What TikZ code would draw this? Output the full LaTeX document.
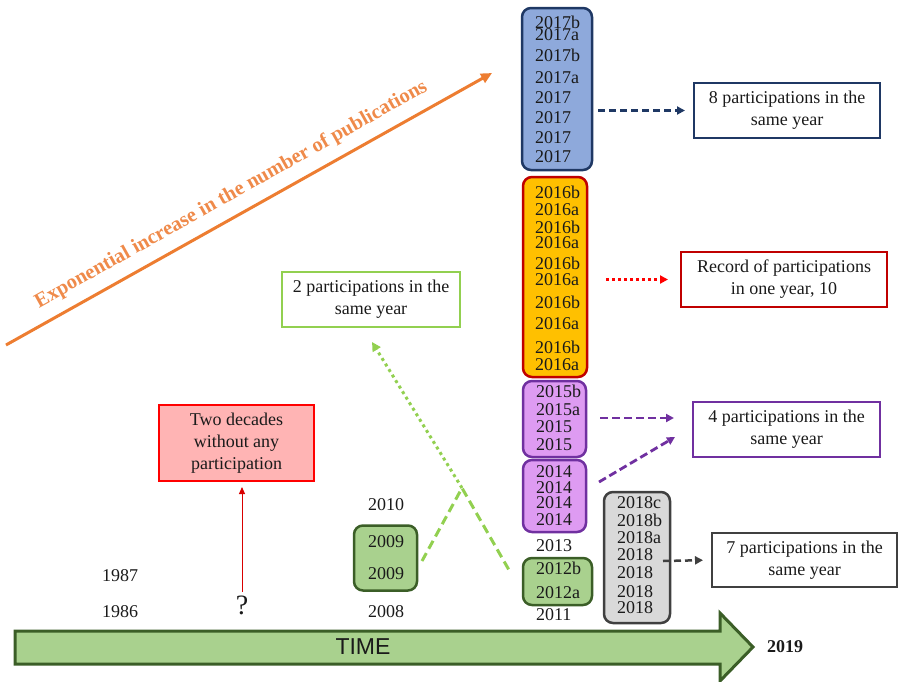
\documentclass[tikz,border=0pt]{standalone}
\usepackage{fontspec}
\setmainfont{Liberation Serif}
\newfontfamily\timefont{Liberation Sans}
\usetikzlibrary{arrows.meta}
\definecolor{navy}{HTML}{1F3864}
\definecolor{bluefill}{HTML}{8EA9DB}
\definecolor{goldfill}{HTML}{FFC000}
\definecolor{darkred}{HTML}{C00000}
\definecolor{purplefill}{HTML}{DE9BF2}
\definecolor{purpleline}{HTML}{7030A0}
\definecolor{greenfill}{HTML}{A9D18E}
\definecolor{greenline}{HTML}{3B5E27}
\definecolor{lightgreen}{HTML}{92D050}
\definecolor{grayfill}{HTML}{D9D9D9}
\definecolor{grayline}{HTML}{404040}
\definecolor{pinkfill}{HTML}{FFB4B4}
\definecolor{brightred}{HTML}{FF0000}
\definecolor{orangeline}{HTML}{ED7D31}
\definecolor{orangetext}{HTML}{EF8A4A}
\definecolor{txt}{HTML}{1A1A1A}
\begin{document}
\begin{tikzpicture}[x=1pt,y=-1pt,
  every node/.style={inner sep=0pt,outer sep=0pt,text=txt,font=\fontsize{18}{22}\selectfont},
  colbox/.style={draw,rounded corners=9pt,line width=2.5pt},
  yr/.style={anchor=west},
  yrc/.style={anchor=center},
  infobox/.style={draw,line width=2.5pt,fill=white,align=center,minimum height=55pt},
  tipT/.style={-{Triangle[length=8pt,width=8pt]}}
]
\useasboundingbox (0,0) rectangle (900,681);

% ---- column boxes
\node[colbox,draw=navy,fill=bluefill,minimum width=70pt,minimum height=162pt] (b17) at (557,89) {};
\node[colbox,draw=darkred,fill=goldfill,minimum width=64pt,minimum height=200pt] (b16) at (555,277) {};
\node[colbox,draw=purpleline,fill=purplefill,minimum width=63pt,minimum height=76pt] (b15) at (554.5,419) {};
\node[colbox,draw=purpleline,fill=purplefill,minimum width=63pt,minimum height=72pt] (b14) at (554.5,496) {};
\node[colbox,draw=greenline,fill=greenfill,minimum width=69pt,minimum height=47pt] (b12) at (557.5,581.5) {};
\node[colbox,draw=grayline,fill=grayfill,minimum width=66pt,minimum height=131pt] (b18) at (637,557.5) {};
\node[colbox,draw=greenline,fill=greenfill,minimum width=63pt,minimum height=65pt] (b09) at (385.5,558) {};

% ---- year labels inside columns
\foreach \y/\t [count=\i] in {22/2017b,35/2017a,55/2017b,78/2017a,98/2017,118/2017,138/2017,157/2017}
  \node[yr] (c17-\i) at (535,\y) {\t};
\foreach \y/\t [count=\i] in {192/2016b,210/2016a,227/2016b,243/2016a,263/2016b,280/2016a,302/2016b,324/2016a,347/2016b,365/2016a}
  \node[yr] (c16-\i) at (535,\y) {\t};
\foreach \y/\t [count=\i] in {391/2015b,410/2015a,427/2015,445/2015}
  \node[yr] (c15-\i) at (536,\y) {\t};
\foreach \y/\t [count=\i] in {472/2014,488/2014,503/2014,520/2014}
  \node[yr] (c14-\i) at (536,\y) {\t};
\node[yr] (y13) at (536,546) {2013};
\foreach \y/\t [count=\i] in {568/2012b,593/2012a}
  \node[yr] (c12-\i) at (536,\y) {\t};
\node[yr] (y11) at (536,615) {2011};
\foreach \y/\t [count=\i] in {503/2018c,520/2018b,538/2018a,555/2018,573/2018,592/2018,608/2018}
  \node[yr] (c18-\i) at (617,\y) {\t};
\node[yrc] (c09-1) at (386,542) {2009};
\node[yrc] (c09-2) at (386,574) {2009};
\node[yrc] (y10) at (386,505) {2010};
\node[yrc] (y08) at (386,612) {2008};
\node[yrc] (y87) at (120,576) {1987};
\node[yrc] (y86) at (120,612) {1986};
\node[yrc,font=\fontsize{28}{30}\selectfont] (q) at (242,605) {?};

% ---- information boxes
\node[infobox,draw=navy,minimum width=186pt] (box8) at (787,110.5) {8 participations in the\\same year};
\node[infobox,draw=darkred,minimum width=206pt] (boxrec) at (784,279.5) {Record of participations\\in one year, 10};
\node[infobox,draw=purpleline,minimum width=187pt] (box4) at (786.5,429.5) {4 participations in the\\same year};
\node[infobox,draw=grayline,minimum width=185pt,minimum height=54pt] (box7) at (804.5,560) {7 participations in the\\same year};
\node[infobox,draw=lightgreen,minimum width=178pt] (box2) at (371,299.5) {2 participations in the\\same year};
\node[draw=brightred,line width=1.8pt,fill=pinkfill,align=center,minimum width=155pt,minimum height=76pt] (pink) at (236.5,443) {Two decades\\without any\\participation};

% ---- connectors
\coordinate (a8s) at (598,110.5);
\draw[navy,line width=2.5pt,dash pattern=on 7pt off 4pt,tipT,shorten >=9pt] (a8s) -- (box8.west);
\coordinate (ars) at (606,279.5);
\draw[brightred,line width=3pt,dash pattern=on 3pt off 3pt,tipT,shorten >=13pt] (ars) -- (boxrec.west);
\coordinate (p1s) at (600,418);
\coordinate (p1e) at (674,418);
\coordinate (p2s) at (599,482);
\coordinate (p2e) at (675,437);
\draw[purpleline,line width=2.8pt,dash pattern=on 8pt off 4pt,tipT] (p1s) -- (p1e);
\draw[purpleline,line width=2.8pt,dash pattern=on 8pt off 4pt,tipT] (p2s) -- (p2e);
\coordinate (gs) at (663,561);
\draw[grayline,line width=2.5pt,dash pattern=on 7pt off 4pt,tipT,shorten >=9pt] (gs) -- (box7.west);
\draw[brightred!85!black,line width=1pt,-{Triangle[length=7pt,width=6pt]},shorten <=13pt,shorten >=6pt] (q.center) -- (q.center |- pink.south);
% green
\coordinate (g1) at (422,561);
\coordinate (peak) at (462,488);
\coordinate (g2) at (509,570);
\coordinate (g3) at (372,342);
\draw[lightgreen,line width=3pt,dash pattern=on 9pt off 5pt] (g1) -- (peak) -- (g2);
\draw[lightgreen,line width=3pt,dash pattern=on 3pt off 3.5pt,-{Triangle[length=9pt,width=9pt]}] (peak) -- (g3);

% ---- orange trend arrow
\coordinate (o1) at (6,345);
\coordinate (o2) at (492,73);
\draw[orangeline,line width=3pt,-{Triangle[length=11pt,width=10pt]}] (o1) -- (o2);
\node[anchor=base,rotate=29.23,text=orangetext,font=\fontsize{20.5}{24}\selectfont\bfseries] (trend) at (233.8,199.2) {Exponential increase in the number of publications};

% ---- time arrow
\draw[greenline,fill=greenfill,line width=3pt,line join=miter]
  (15,631) -- (720,631) -- (720,613) -- (753,647) -- (720,681) -- (720,664) -- (15,664) -- cycle;
\node[yrc,font=\timefont\fontsize{23}{26}\selectfont] (time) at (363,647) {TIME};
\node[yrc,font=\fontsize{18}{22}\selectfont\bfseries] (y19) at (785,647) {2019};
\end{tikzpicture}
\end{document}
